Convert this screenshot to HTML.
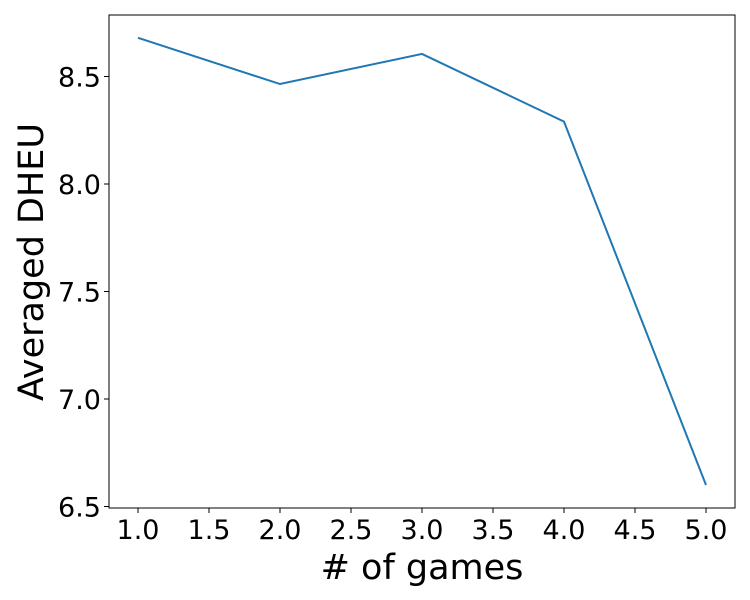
<!DOCTYPE html>
<html><head><meta charset="utf-8"><style>
body{margin:0;background:#fff;}
svg{display:block;font-family:"DejaVu Sans","Liberation Sans",sans-serif;}
</style></head><body>
<svg id="chart" width="750" height="600"></svg>
<script>
const categories=[1,2,3,4,5];
const seriesValues=[8.68,8.465,8.605,8.29,6.6];
const xTicks=[1.0,1.5,2.0,2.5,3.0,3.5,4.0,4.5,5.0];
const yTicks=[6.5,7.0,7.5,8.0,8.5];
const L=109,R=735,T=15,B=508;
const x=v=>138+(v-1)*142;
const y=v=>399-(v-7)*215;
const NS="http://www.w3.org/2000/svg";
const svg=document.getElementById('chart');
function mk(t,a,p){const e=document.createElementNS(NS,t);for(const k in a)e.setAttribute(k,a[k]);(p||svg).appendChild(e);return e;}
const frame=mk('rect',{x:L,y:T,width:R-L,height:B-T,fill:'none',stroke:'#000','stroke-width':1});


xTicks.forEach(v=>{
  const l=mk('line',{x1:x(v),x2:x(v),y1:B,y2:B+5,stroke:'#000'});
  
  
  const t=mk('text',{x:x(v),y:B+31,'text-anchor':'middle','font-size':27});
  t.textContent=v.toFixed(1);
  
  
});
yTicks.forEach(v=>{
  const l=mk('line',{x1:L-5,x2:L,y1:y(v),y2:y(v),stroke:'#000'});
  
  
  const t=mk('text',{x:L-8,y:y(v)+10,'text-anchor':'end','font-size':27});
  t.textContent=v.toFixed(1);
  
  
});
const pts=categories.map((c,i)=>x(c)+','+y(seriesValues[i])).join(' ');
const line=mk('polyline',{points:pts,fill:'none',stroke:'#1f77b4','stroke-width':2});


const xt=mk('text',{x:(L+R)/2+0,y:579,'text-anchor':'middle','font-size':35});
xt.textContent='# of games';


const yt=mk('text',{x:0,y:0,'text-anchor':'middle','font-size':35,transform:'translate(43,262) rotate(-90)'});
yt.textContent='Averaged DHEU';


</script>
</body></html>
